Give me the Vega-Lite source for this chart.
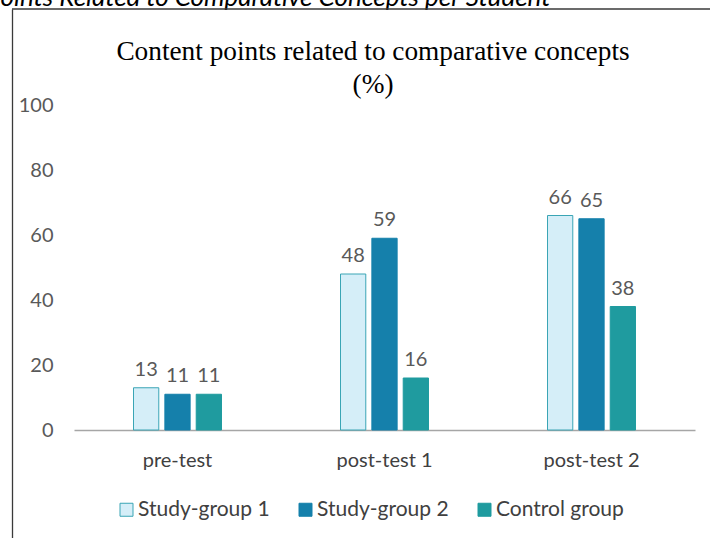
{
  "$schema": "https://vega.github.io/schema/vega-lite/v6.json",
  "width": 698,
  "height": 529,
  "autosize": {"type": "none"},
  "padding": {"left": 12, "top": 9, "right": 0, "bottom": 0},
  "background": "white",
  "title": {
    "text": ["Content points related to comparative concepts", "(%)"],
    "font": "Liberation Serif",
    "fontSize": 27.3,
    "fontWeight": "normal",
    "color": "#000000",
    "anchor": "middle",
    "frame": "group",
    "dx": 12,
    "offset": -114,
    "lineHeight": 33
  },
  "data": {
    "values": [
      {"test": "pre-test", "group": "Study-group 1", "value": 13},
      {"test": "pre-test", "group": "Study-group 2", "value": 11},
      {"test": "pre-test", "group": "Control group", "value": 11},
      {"test": "post-test 1", "group": "Study-group 1", "value": 48},
      {"test": "post-test 1", "group": "Study-group 2", "value": 59},
      {"test": "post-test 1", "group": "Control group", "value": 16},
      {"test": "post-test 2", "group": "Study-group 1", "value": 66},
      {"test": "post-test 2", "group": "Study-group 2", "value": 65},
      {"test": "post-test 2", "group": "Control group", "value": 38}
    ]
  },
  "layer": [
    {
      "data": {"values": [{"frame": "top"}]},
      "mark": {"type": "rule", "color": "#3a3a3a", "strokeWidth": 1.3},
      "encoding": {"y": {"datum": 129.54, "type": "quantitative"}}
    },
    {
      "mark": {"type": "bar", "strokeWidth": 1},
      "encoding": {
        "x": {
          "field": "test",
          "type": "nominal",
          "sort": ["pre-test", "post-test 1", "post-test 2"],
          "scale": {"range": [62, 683], "paddingInner": 0.575, "paddingOuter": 0.2875},
          "axis": {
            "title": null,
            "orient": "bottom",
            "offset": -108,
            "domainColor": "#a6a6a6",
            "domainWidth": 1.5,
            "ticks": false,
            "labelPadding": 20,
            "labelAngle": 0,
            "labelFont": "Lato",
            "labelFontSize": 20,
            "labelColor": "#404040",
            "grid": false
          }
        },
        "xOffset": {
          "field": "group",
          "type": "nominal",
          "sort": ["Study-group 1", "Study-group 2", "Control group"],
          "scale": {"paddingInner": 0.194, "paddingOuter": 0}
        },
        "y": {
          "field": "value",
          "type": "quantitative",
          "scale": {"domain": [-33.23, 129.54], "nice": false, "zero": false},
          "axis": {
            "title": "Points Related to Comparative Concepts per Student",
            "titleAngle": 0,
            "titleX": -26,
            "titleY": -4,
            "titleAlign": "left",
            "titleBaseline": "alphabetic",
            "titleFont": "Lato",
            "titleFontStyle": "italic",
            "titleFontWeight": "normal",
            "titleFontSize": 26,
            "titleColor": "#000000",
            "values": [0, 20, 40, 60, 80, 100],
            "grid": false,
            "ticks": false,
            "tickSize": 0,
            "domain": true,
            "domainColor": "#3a3a3a",
            "domainWidth": 1.3,
            "labelPadding": -41,
            "labelFont": "Lato",
            "labelFontSize": 20,
            "labelColor": "#595959"
          }
        },
        "y2": {"datum": 0},
        "fill": {
          "field": "group",
          "type": "nominal",
          "scale": {
            "domain": ["Study-group 1", "Study-group 2", "Control group"],
            "range": ["#d5eef8", "#1580ab", "#1f9b9f"]
          },
          "legend": {
            "title": null,
            "orient": "none",
            "legendX": 104,
            "legendY": 490,
            "direction": "horizontal",
            "symbolType": "square",
            "symbolSize": 169,
            "symbolStrokeWidth": 1,
            "labelFont": "Lato",
            "labelFontSize": 21,
            "labelColor": "#404040",
            "columnPadding": 25,
            "labelOffset": 1,
            "padding": 0,
            "labelLimit": 300
          }
        },
        "stroke": {
          "field": "group",
          "type": "nominal",
          "scale": {
            "domain": ["Study-group 1", "Study-group 2", "Control group"],
            "range": ["#3aa5b5", "#1580ab", "#1f9b9f"]
          },
          "legend": {
            "title": null,
            "orient": "none",
            "legendX": 104,
            "legendY": 490,
            "direction": "horizontal",
            "symbolType": "square",
            "symbolSize": 169,
            "symbolStrokeWidth": 1,
            "labelFont": "Lato",
            "labelFontSize": 21,
            "labelColor": "#404040",
            "columnPadding": 25,
            "labelOffset": 1,
            "padding": 0,
            "labelLimit": 300
          }
        }
      }
    },
    {
      "mark": {"type": "text", "font": "Lato", "fontSize": 20, "color": "#595959", "baseline": "alphabetic", "dy": -12},
      "encoding": {
        "x": {"field": "test", "type": "nominal", "sort": ["pre-test", "post-test 1", "post-test 2"]},
        "xOffset": {"field": "group", "type": "nominal", "sort": ["Study-group 1", "Study-group 2", "Control group"]},
        "y": {"field": "value", "type": "quantitative"},
        "text": {"field": "value", "type": "quantitative"}
      }
    }
  ],
  "config": {
    "view": {"stroke": null},
    "axis": {"labelOverlap": false}
  }
}
